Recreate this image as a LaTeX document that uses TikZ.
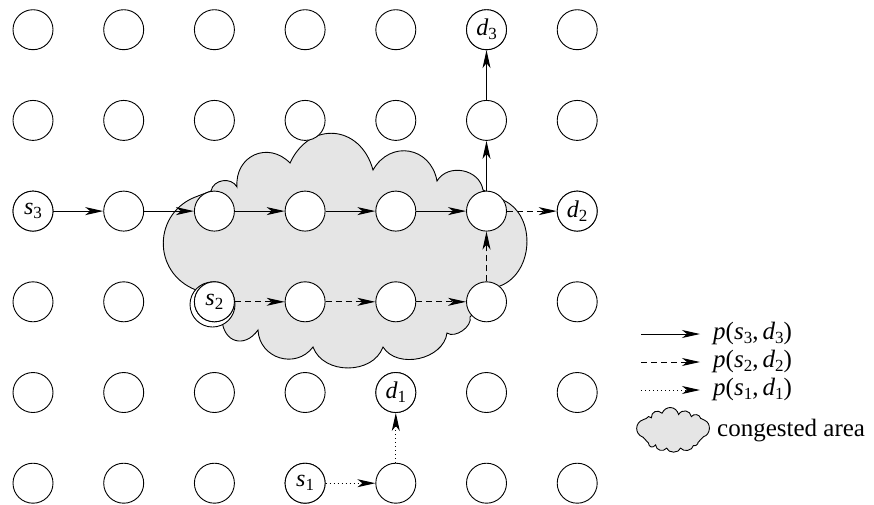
\documentclass[tikz,border=0pt]{standalone}
\usepackage{fontspec}
\setmainfont{Liberation Serif}
\newfontfamily\tms{Liberation Serif}
\usetikzlibrary{arrows.meta}
\newcommand\lab[2]{{\tms\itshape #1}\raisebox{-4pt}{\tms\fontsize{17}{17}\selectfont #2}}
\newcommand\cloudpath{(198,196) to[lobe=1.3] (196,290) -- (222,320) to[lobe=1.56] (258,330) to[lobe=1.27] (313,347) to[lobe=1.09] (383,347) to[lobe=1.05] (447,333) to[lobe=0.9] (470,317) -- (497,287) to[lobe=1.12] (503,200) -- (483,190) to[lobe=1.16] (437,181) to[lobe=1.38] (373,170) to[lobe=1.45] (290,163) to[lobe=1.38] (237,187) to[lobe=1.16] (211,191) -- cycle}
\begin{document}
\begin{tikzpicture}[x=1pt,y=-1pt,
  lobe/.style={bend right=70,looseness=#1},
  cloudsty/.style={draw,line width=0.9pt,fill=black!10},
  grid/.style={circle,draw,line width=0.9pt,fill=white,minimum size=40pt,inner sep=0pt,font=\tms\fontsize{24}{24}\selectfont},
  arr/.style={line width=1pt,-{Stealth[length=18pt,width=8pt,inset=5pt]}},
  solidarr/.style={arr},
  dasharr/.style={arr,dash pattern=on 6pt off 4pt},
  dotarr/.style={arr,dash pattern=on 1pt off 3pt},
  legtext/.style={anchor=base west,inner sep=0pt,font=\tms\fontsize{25}{25}\selectfont}]
\useasboundingbox (0,0) rectangle (874,504);
% congested area
\draw[cloudsty] \cloudpath;
\draw[line width=0.9pt,fill=white] (212.5,304.5) circle[radius=22.5];
% grid
\foreach \c in {1,...,7}{
  \foreach \r in {1,...,6}{
    \node[grid] (n\c\r) at ({33+90.7*(\c-1)},{29.7+90.7*(\r-1)}) {};
  }
}
\node[grid] at (n13) {\lab{s}{3}};
\node[grid] at (n61) {\lab{d}{3}};
\node[grid] at (n73) {\lab{d}{2}};
\node[grid] at (n34) {\lab{s}{2}};
\node[grid] at (n55) {\lab{d}{1}};
\node[grid] at (n46) {\lab{s}{1}};
% paths
\draw[solidarr] (n13) -- (n23);
\draw[solidarr] (n23) -- (n33);
\draw[solidarr] (n33) -- (n43);
\draw[solidarr] (n43) -- (n53);
\draw[solidarr] (n53) -- (n63);
\draw[solidarr] (n63) -- (n62);
\draw[solidarr] (n62) -- (n61);
\draw[dasharr] (n34) -- (n44);
\draw[dasharr] (n44) -- (n54);
\draw[dasharr] (n54) -- (n64);
\draw[dasharr] (n64) -- (n63);
\draw[dasharr] (n63) -- (n73);
\draw[dotarr] (n46) -- (n56);
\draw[dotarr] (n56) -- (n55);
% legend
\coordinate (la1) at (641,334); \coordinate (lb1) at (700,334);
\coordinate (la2) at (641,362); \coordinate (lb2) at (700,362);
\coordinate (la3) at (641,390); \coordinate (lb3) at (700,390);
\draw[solidarr] (la1) -- (lb1);
\draw[dasharr] (la2) -- (lb2);
\draw[dotarr] (la3) -- (lb3);
\node[legtext] (t1) at (713,339) {{\itshape p}(\lab{s}{3},\,\lab{d}{3})};
\node[legtext] (t2) at (713,367) {{\itshape p}(\lab{s}{2},\,\lab{d}{2})};
\node[legtext] (t3) at (713,395) {{\itshape p}(\lab{s}{1},\,\lab{d}{1})};
\begin{scope}[shift={(673,430)},xscale=0.2,yscale=0.19,shift={(-345,-251.5)}]
\draw[cloudsty] \cloudpath;
\end{scope}
\node[legtext] (t4) at (717,436) {congested area};
\end{tikzpicture}
\end{document}
